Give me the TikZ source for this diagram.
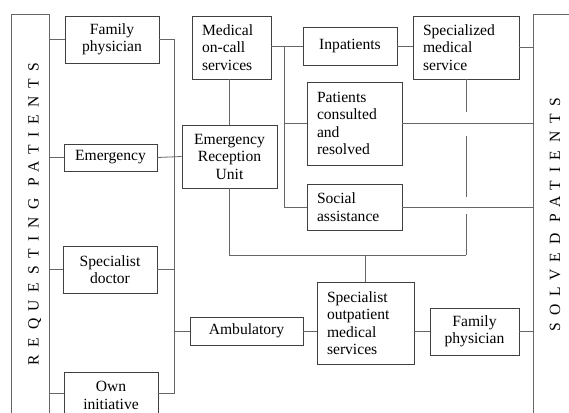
\documentclass[tikz,border=0pt]{standalone}
\usepackage{fontspec}
\setmainfont{Liberation Serif}
\usepackage{tikz}
\usetikzlibrary{calc}

\begin{document}
\begin{tikzpicture}[x=1pt, y=-1pt,
  box/.style={rectangle, draw=black!75, line width=0.8pt, fill=white,
              align=center, inner sep=0pt,
              font=\fontsize{15.6}{17.5}\selectfont},
  lbox/.style={box, align=left, inner xsep=10pt},
  line/.style={draw=black!60, line width=0.8pt},
  side/.style={rectangle, draw=black!60, line width=0.8pt},
  title/.style={rotate=90, anchor=base,
                font=\fontsize{15.6}{17.5}\selectfont\addfontfeature{LetterSpace=49}}
]
\useasboundingbox (0,0) rectangle (569,412);

% side columns
\node[side, minimum width=38, minimum height=406] (reqbox) at (30,217) {};
\node[side, minimum width=67, minimum height=416] (solbox) at (566.5,222) {};
\node[title] (reqtitle) at (38.5,214) {REQUESTING PATIENTS};
\node[title] (soltitle) at (560,215) {SOLVED PATIENTS};

% requesting side
\node[box, minimum width=94, minimum height=47] (famreq) at (112,39.5) {Family\\physician};
\node[box, minimum width=93, minimum height=27] (emerg) at (110.5,157.5) {Emergency};
\node[box, minimum width=94, minimum height=47] (specdoc) at (110,269.5) {Specialist\\doctor};
\node[box, minimum width=94, minimum height=47] (owninit) at (111,395.5) {Own\\initiative};

% middle
\node[lbox, text width=59, minimum height=63] (oncall) at (231.5,47.5) {Medical\\on-call\\services};
\node[box, minimum width=95, minimum height=63] (eru) at (229.5,156.5) {Emergency\\Reception\\Unit};
\node[box, minimum width=94, minimum height=38] (inpat) at (350,46) {Inpatients};
\node[lbox, text width=75, minimum height=83] (consulted) at (354.5,123.5) {Patients\\consulted\\and\\resolved};
\node[lbox, text width=75, minimum height=46] (social) at (354.5,207) {Social\\assistance};
\node[lbox, text width=86, minimum height=63] (specserv) at (466,47.5) {Specialized\\medical\\service};
\node[box, minimum width=113, minimum height=28] (ambul) at (246.5,331) {Ambulatory};
\node[lbox, text width=77, minimum height=82] (outpat) at (365.5,323) {Specialist\\outpatient\\medical\\services};
\node[box, minimum width=89, minimum height=47] (famsol) at (474.5,331.5) {Family\\physician};

\coordinate (bus) at (174,0);
\coordinate (split) at (284,46);
\coordinate (join) at (0,255);

% connectors
\draw[line] (famreq.west) -- (famreq.west -| reqbox.east);
\draw[line] (emerg.west) -- (emerg.west -| reqbox.east);
\draw[line] (specdoc.west) -- (specdoc.west -| reqbox.east);
\draw[line] (owninit.west |- 0,393) -- (reqbox.east |- 0,393);
\draw[line] (famreq.east) -| (bus |- 0,393) -- (owninit.east |- 0,393);
\draw[line] (specdoc.east) -- (specdoc.east -| bus);
\draw[line] (ambul.west) -- (ambul.west -| bus);
\draw[line] (emerg.east) -- (eru.west);
\draw[line] (oncall.south -| eru.north) -- (eru.north);
\draw[line] (oncall.east |- inpat.west) -- (inpat.west);
\draw[line] (split) |- (social.west);
\draw[line] (split |- consulted.west) -- (consulted.west);
\draw[line] (inpat.east) -- (specserv.west |- inpat.east);
\draw[line] (specserv.east) -- (specserv.east -| solbox.west);
\draw[line] (consulted.east) -- (consulted.east -| solbox.west);
\draw[line] (social.east) -- (social.east -| solbox.west);
\draw[line] (eru.south) |- (specserv.south |- join);
\draw[line] (specserv.south) -- ($(specserv.south |- consulted.east)+(0,-12)$);
\draw[line] ($(specserv.south |- consulted.east)+(0,12)$) -- ($(specserv.south |- social.east)+(0,-10)$);
\draw[line] ($(specserv.south |- social.east)+(0,7)$) -- (specserv.south |- join);
\draw[line] (outpat.north) -- (outpat.north |- join);
\draw[line] (ambul.east) -- (outpat.west |- ambul.east);
\draw[line] (outpat.east |- famsol.west) -- (famsol.west);
\draw[line] (famsol.east) -- (famsol.east -| solbox.west);
\end{tikzpicture}
\end{document}
